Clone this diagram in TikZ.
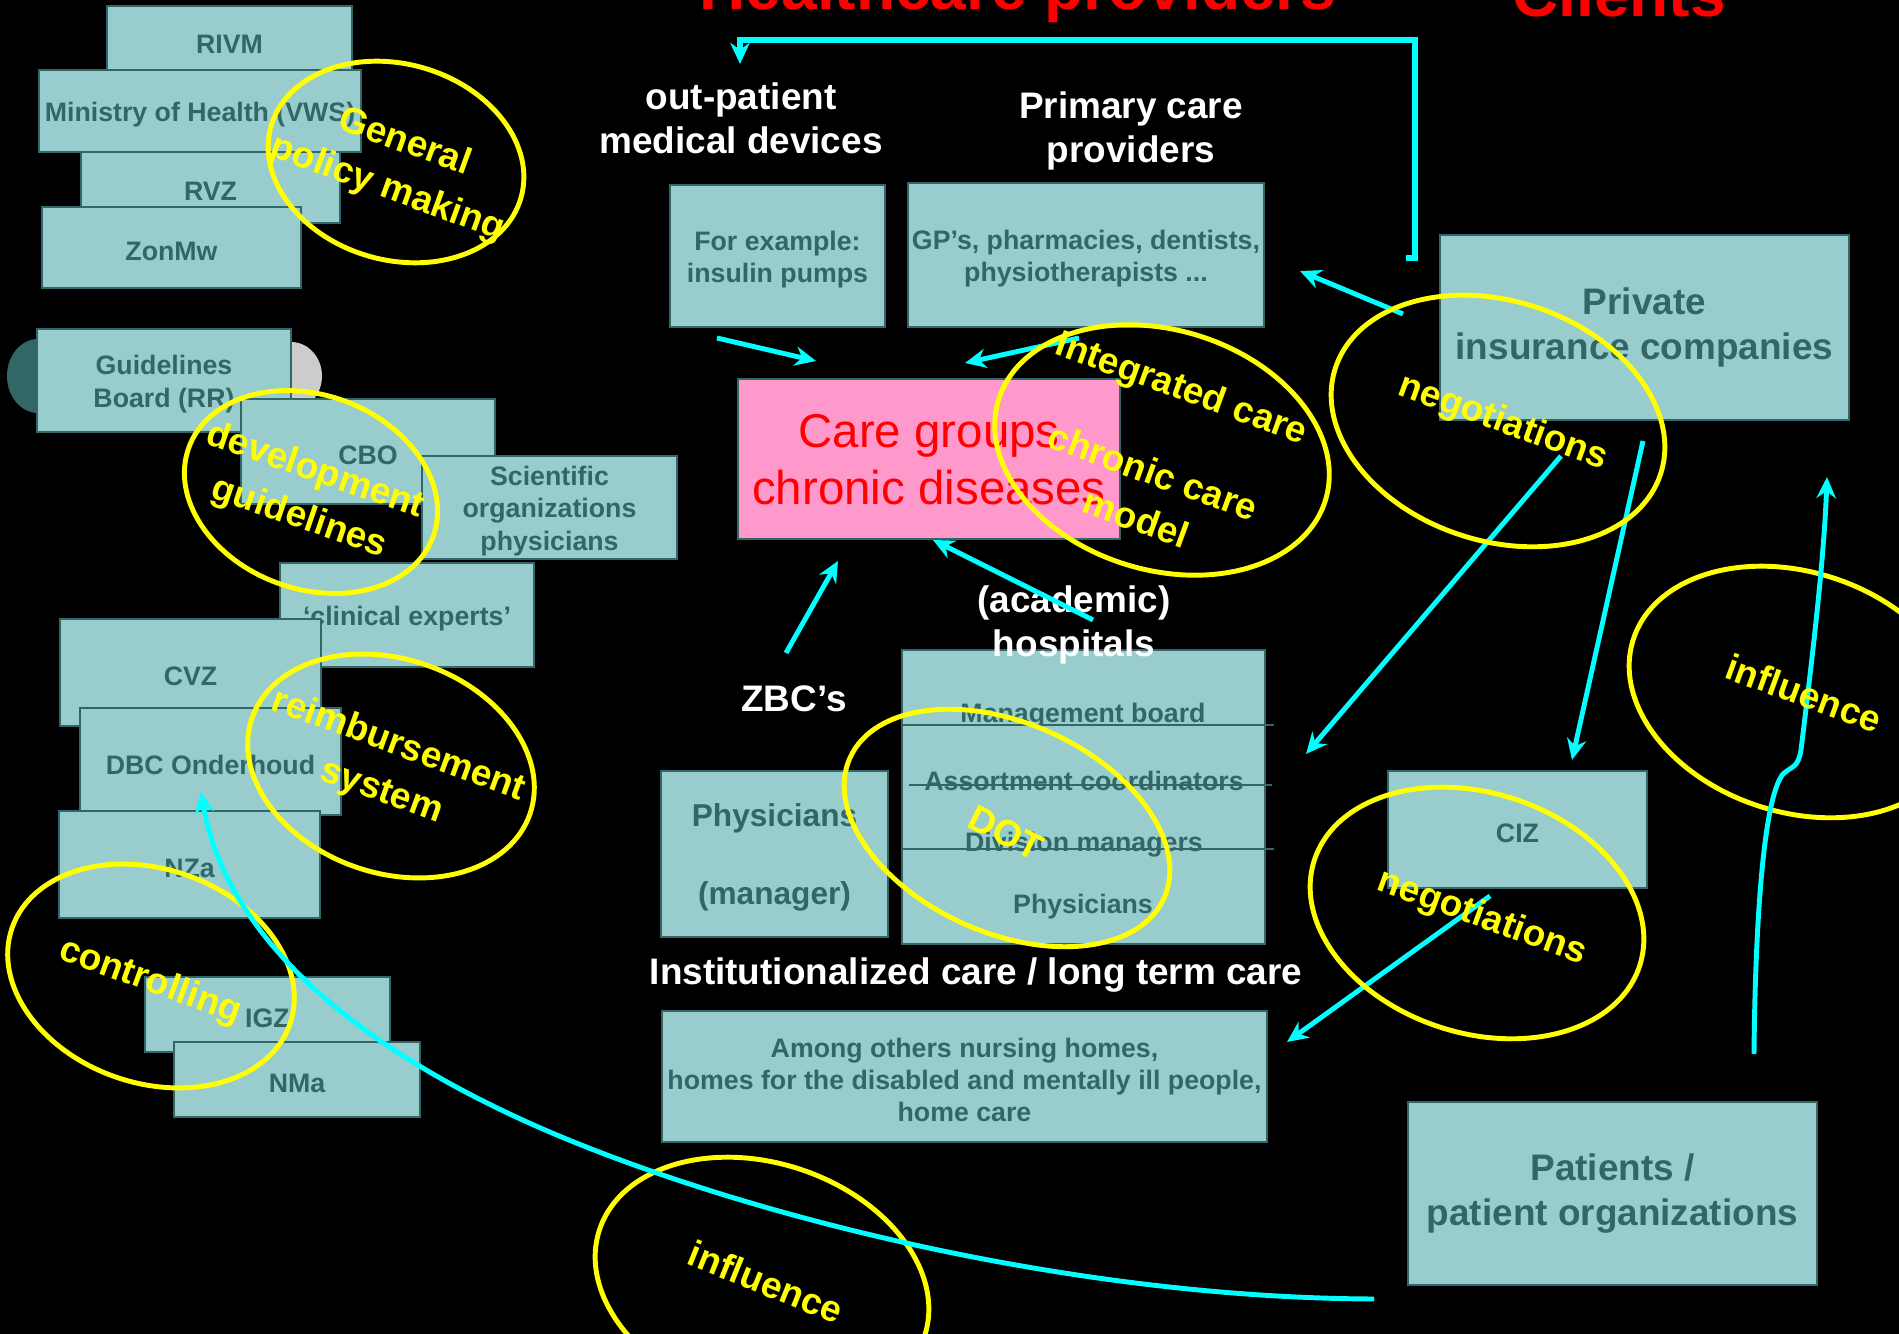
\documentclass[tikz,border=0pt]{standalone}
\usepackage{fontspec}
\setmainfont{Liberation Sans}
\usetikzlibrary{arrows.meta}
\definecolor{tealfill}{HTML}{99CCCC}
\definecolor{tealdark}{HTML}{336666}
\definecolor{pinkbox}{HTML}{FF99CC}
\definecolor{flowcyan}{HTML}{00FFFF}
\definecolor{ringyellow}{HTML}{FFFF00}
\tikzset{
	tealbox/.style={draw=tealdark, line width=0.7pt, fill=tealfill},
	tealtext/.style={text=tealdark, font=\bfseries\fontsize{7.6}{9.2}\selectfont, align=center, inner sep=0pt, yshift=-1pt},
	bigtext/.style={font=\bfseries\fontsize{10.5}{12.6}\selectfont, yshift=1pt},
	whitelabel/.style={text=white, font=\bfseries\fontsize{10.5}{12.6}\selectfont, align=center, inner sep=0pt},
	titletext/.style={text=red, font=\bfseries\fontsize{18.2}{20}\selectfont, inner sep=0pt},
	ring/.style={draw=ringyellow, line width=1.4pt},
	ringtext/.style={text=ringyellow, font=\bfseries\fontsize{10.5}{14}\selectfont, align=center, inner sep=0pt},
	flow/.style={draw=flowcyan, line width=1.4pt, -{Stealth[length=6pt,width=5.5pt]}},
}
\def\tealrect[#1](#2,#3)(#4,#5)#6#7{\draw[tealbox] (#2,#3) rectangle (#4,#5); \node[tealtext,#1] (#6) at ({(#2+#4)/2},{(#3+#5)/2}) {#7};}

\begin{document}
\begin{tikzpicture}[x=0.01cm, y=-0.01cm]
			%%%%% START %%%%%
			
			\fill[black] (0,0) rectangle (1899,1334);
			\useasboundingbox (0,0) rectangle (1899,1334);
			
			\node[titletext, anchor=base] (hctitle) at (1018,10) {Healthcare providers};
			\node[titletext, anchor=base] (cltitle) at (1619,17) {Clients};
			
			% policy makers
			\tealrect[](107,6)(352,75){rivm}{RIVM}
			\tealrect[](39,70)(361,152){vws}{Ministry of Health (VWS)}
			\tealrect[](81,152)(340,223){rvz}{RVZ}
			\tealrect[](42,207)(301,288){zonmw}{ZonMw}
			
			% guidelines
			\fill[tealdark] (38,376) ellipse (31 and 37);
			\fill[black!20] (291,376) ellipse (31 and 34);
			\tealrect[](37,329)(291,432){rr}{Guidelines\\Board (RR)}
			\tealrect[](241,399)(495,504){cbo}{CBO}
			\tealrect[](422,456)(677,559){sciorg}{Scientific\\organizations\\physicians}
			\tealrect[](280,563)(534,667){clinexp}{‘clinical experts’}
			
			% reimbursement and control
			\tealrect[](60,619)(321,726){cvz}{CVZ}
			\tealrect[](80,708)(341,815){dbc}{DBC Onderhoud}
			\tealrect[](59,811)(320,918){nza}{NZa}
			\tealrect[](145,977)(390,1052){igz}{IGZ}
			\tealrect[](174,1042)(420,1117){nma}{NMa}
			
			% providers
			\node[whitelabel] (outpat) at (741,118) {out-patient\\medical devices};
			\node[whitelabel] (primlabel) at (1131,131) {Primary care\\providers};
			\tealrect[](670,185)(885,327){pumps}{For example:\\insulin pumps}
			\tealrect[](908,183)(1264,327){gps}{GP’s, pharmacies, dentists,\\physiotherapists ...}
			
			\draw[tealbox, fill=pinkbox] (738,379) rectangle (1120,539);
			\node[text=red, font=\fontsize{13.5}{16.2}\selectfont, align=center, inner sep=0pt] (caregroups) at (929,460) {Care groups\\chronic diseases};
			
			\node[whitelabel] (zbc) at (794,699) {ZBC’s};
			
			\tealrect[font=\bfseries\fontsize{9}{11}\selectfont](661,771)(888,937){zbcphys}{Physicians\\[11pt](manager)}
			
			\draw[tealbox] (902,650) rectangle (1265,944);
			\draw[tealdark, line width=0.7pt] (903,725) -- (1274,725);
			\draw[tealdark, line width=0.7pt] (909,785) -- (1272,785);
			\draw[tealdark, line width=0.7pt] (903,849) -- (1274,849);
			\node[tealtext] (mgmt) at (1083,712) {Management board};
			\node[tealtext] (assort) at (1084,777) {Assortment coordinators};
			\node[tealtext] (divman) at (1084,841) {Division managers};
			\node[tealtext] (hosphys) at (1083,903) {Physicians};
			\node[whitelabel] (hosplabel) at (1074,625) {(academic)\\hospitals};
			
			\node[whitelabel] (instlabel) at (976,975) {Institutionalized care / long term care};
			\tealrect[](662,1011)(1267,1142){nursing}{Among others nursing homes,\\homes for the disabled and mentally ill people,\\home care}
			
			% clients
			\tealrect[bigtext](1440,235)(1849,420){insurers}{Private\\insurance companies}
			\tealrect[](1388,771)(1647,888){ciz}{CIZ}
			\tealrect[bigtext](1408,1102)(1817,1285){patients}{Patients /\\patient organizations}
			
			% arrows
			\coordinate (pumpTail) at (717,338);
			\coordinate (pumpTip) at (816,361);
			\coordinate (gpTail) at (1079,338);
			\coordinate (gpTip) at (965,363);
			\coordinate (zbcTail) at (786,653);
			\coordinate (zbcTip) at (838,561);
			\coordinate (hospTail) at (1093,620);
			\coordinate (hospTip) at (933,540);
			\coordinate (insGpTail) at (1403,314);
			\coordinate (insGpTip) at (1300,271);
			\coordinate (negTailA) at (1561,456);
			\coordinate (negTipA) at (1306,754);
			\coordinate (negTailB) at (1643,441);
			\coordinate (negTipB) at (1572,760);
			\coordinate (cizTail) at (1490,896);
			\coordinate (cizTip) at (1287,1042);
			\coordinate (infTail) at (1754,1054);
			\coordinate (infTip) at (1827,477);
			\coordinate (patTail) at (1374,1299);
			\coordinate (dbcTip) at (201,792);
			\coordinate (bracketFoot) at (1406,258);
			\coordinate (outpatTip) at (740,64);
			
			\draw[flow] (pumpTail) -- (pumpTip);
			\draw[flow] (gpTail) -- (gpTip);
			\draw[flow] (zbcTail) -- (zbcTip);
			\draw[flow] (hospTail) -- (hospTip);
			\draw[flow] (insGpTail) -- (insGpTip);
			\draw[flow] (negTailA) -- (negTipA);
			\draw[flow] (negTailB) -- (negTipB);
			\draw[flow] (cizTail) -- (cizTip);
			\draw[flow, line width=1.6pt] (bracketFoot) -- (1415,258) -- (1415,40) -- (740,40) -- (outpatTip);
			
			% rings
			\draw[ring, rotate around={-16:(396,162)}] (396,162) ellipse (130 and 98);
			\draw[ring, rotate around={-20:(311,492)}] (311,492) ellipse (130 and 97);
			\draw[ring, rotate around={-17:(1162,450)}] (1162,450) ellipse (171 and 120);
			\draw[ring, rotate around={-18:(1498,421)}] (1498,421) ellipse (171 and 120);
			\draw[ring, rotate around={-19:(391,766)}] (391,766) ellipse (147 and 107);
			\draw[ring, rotate around={-24:(1007,828)}] (1007,828) ellipse (172 and 105);
			\draw[ring, rotate around={-19:(151,976)}] (151,976) ellipse (147 and 107);
			\draw[ring, rotate around={-18:(1477,913)}] (1477,913) ellipse (171 and 120);
			\draw[ring, rotate around={-18:(1796,692)}] (1796,692) ellipse (171 and 120);
			\draw[ring, rotate around={-18:(762,1283)}] (762,1283) ellipse (171 and 120);
			
			\draw[flow] (infTail) .. controls (1755,940) and (1762,800) .. (1783,774) .. controls (1792,766) and (1798,768) .. (1801,750) .. controls (1812,660) and (1824,560) .. (infTip);
			\draw[flow] (patTail) .. controls (1100,1298) and (800,1230) .. (594,1150) .. controls (400,1075) and (230,960) .. (dbcTip);
			
			\node[ringtext, rotate=-20] (policy) at (396,166) {General\\policy making};
			\node[ringtext, rotate=-19] (develop) at (307,495) {development\\guidelines};
			\node[ringtext, rotate=-20] (integ) at (1181,390) {Integrated care};
			\node[ringtext, rotate=-20] (ccm) at (1145,495) {chronic care\\model};
			\node[ringtext, rotate=-20] (negtop) at (1503,423) {negotiations};
			\node[ringtext, rotate=-20] (reimb) at (390,769) {reimbursement\\system};
			\node[ringtext, rotate=-27] (dot) at (1006,833) {DOT};
			\node[ringtext, rotate=-20] (control) at (150,982) {controlling};
			\node[ringtext, rotate=-20] (negbot) at (1482,918) {negotiations};
			\node[ringtext, rotate=-20] (inflright) at (1804,693) {influence};
			\node[ringtext, rotate=-22] (inflbot) at (766,1282) {influence};
			
			%%%%% END %%%%%
\end{tikzpicture}
\end{document}
